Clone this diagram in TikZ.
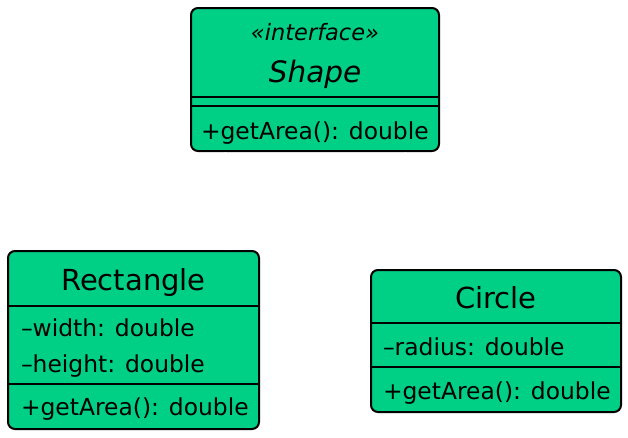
\documentclass[tikz,border=0pt]{standalone}
\usepackage{fontspec}
\setmainfont{DejaVu Sans}
\usetikzlibrary{positioning,calc}
\definecolor{umlgreen}{RGB}{0,208,134}

\begin{document}
\begin{tikzpicture}[x=1pt, y=-1pt, line width=2pt,
    classe/.style={draw, fill=umlgreen, rounded corners=7pt, inner sep=0pt},
    titre/.style={anchor=base, inner sep=0pt, font=\fontsize{29}{31}\selectfont},
    membre/.style={anchor=base west, inner sep=0pt, font=\fontsize{23.4}{25}\selectfont},
    lien/.style={white, dashed, line width=1pt}]
    \useasboundingbox (0,0) rectangle (628,437);
    \node[classe, minimum width=248pt, minimum height=143pt] (shape) at (315,79.5) {};
    \node[classe, minimum width=251pt, minimum height=178pt] (rectangle) at (133.5,340) {};
    \node[classe, minimum width=250pt, minimum height=142pt] (cercle) at (496,341) {};
    \draw ($(shape.north west)+(0,90)$) -- ($(shape.north east)+(0,90)$);
    \draw ($(shape.north west)+(0,99)$) -- ($(shape.north east)+(0,99)$);
    \draw ($(rectangle.north west)+(0,56)$) -- ($(rectangle.north east)+(0,56)$);
    \draw ($(rectangle.north west)+(0,134)$) -- ($(rectangle.north east)+(0,134)$);
    \draw ($(cercle.north west)+(0,54)$) -- ($(cercle.north east)+(0,54)$);
    \draw ($(cercle.north west)+(0,98)$) -- ($(cercle.north east)+(0,98)$);
    \node[titre, font=\fontsize{22.5}{24}\selectfont\itshape] (shapestereo) at (315,40) {«interface»};
    \node[titre, font=\fontsize{29.5}{31}\selectfont\itshape] (shapenom) at (315,82) {Shape};
    \node[membre] (shapeaire) at (200,139) {+getArea(): double};
    \node[titre] (rectnom) at (133.5,290.7) {Rectangle};
    \node[membre] (rectlargeur) at (20,336.7) {–width: double};
    \node[membre] (recthauteur) at (20,372) {–height: double};
    \node[membre] (rectaire) at (20,415.7) {+getArea(): double};
    \node[titre] (cerclenom) at (496,308.3) {Circle};
    \node[membre] (cercleRayon) at (382,355) {–radius: double};
    \node[membre] (cercleaire) at (382,399) {+getArea(): double};
    \draw[lien] ($(rectangle.north)+(91.5,0)$) -- ($(shape.south)+(-90,0)$);
    \draw[lien] ($(cercle.north)+(-91,0)$) -- ($(shape.south)+(90,0)$);
  \end{tikzpicture}
\end{document}
